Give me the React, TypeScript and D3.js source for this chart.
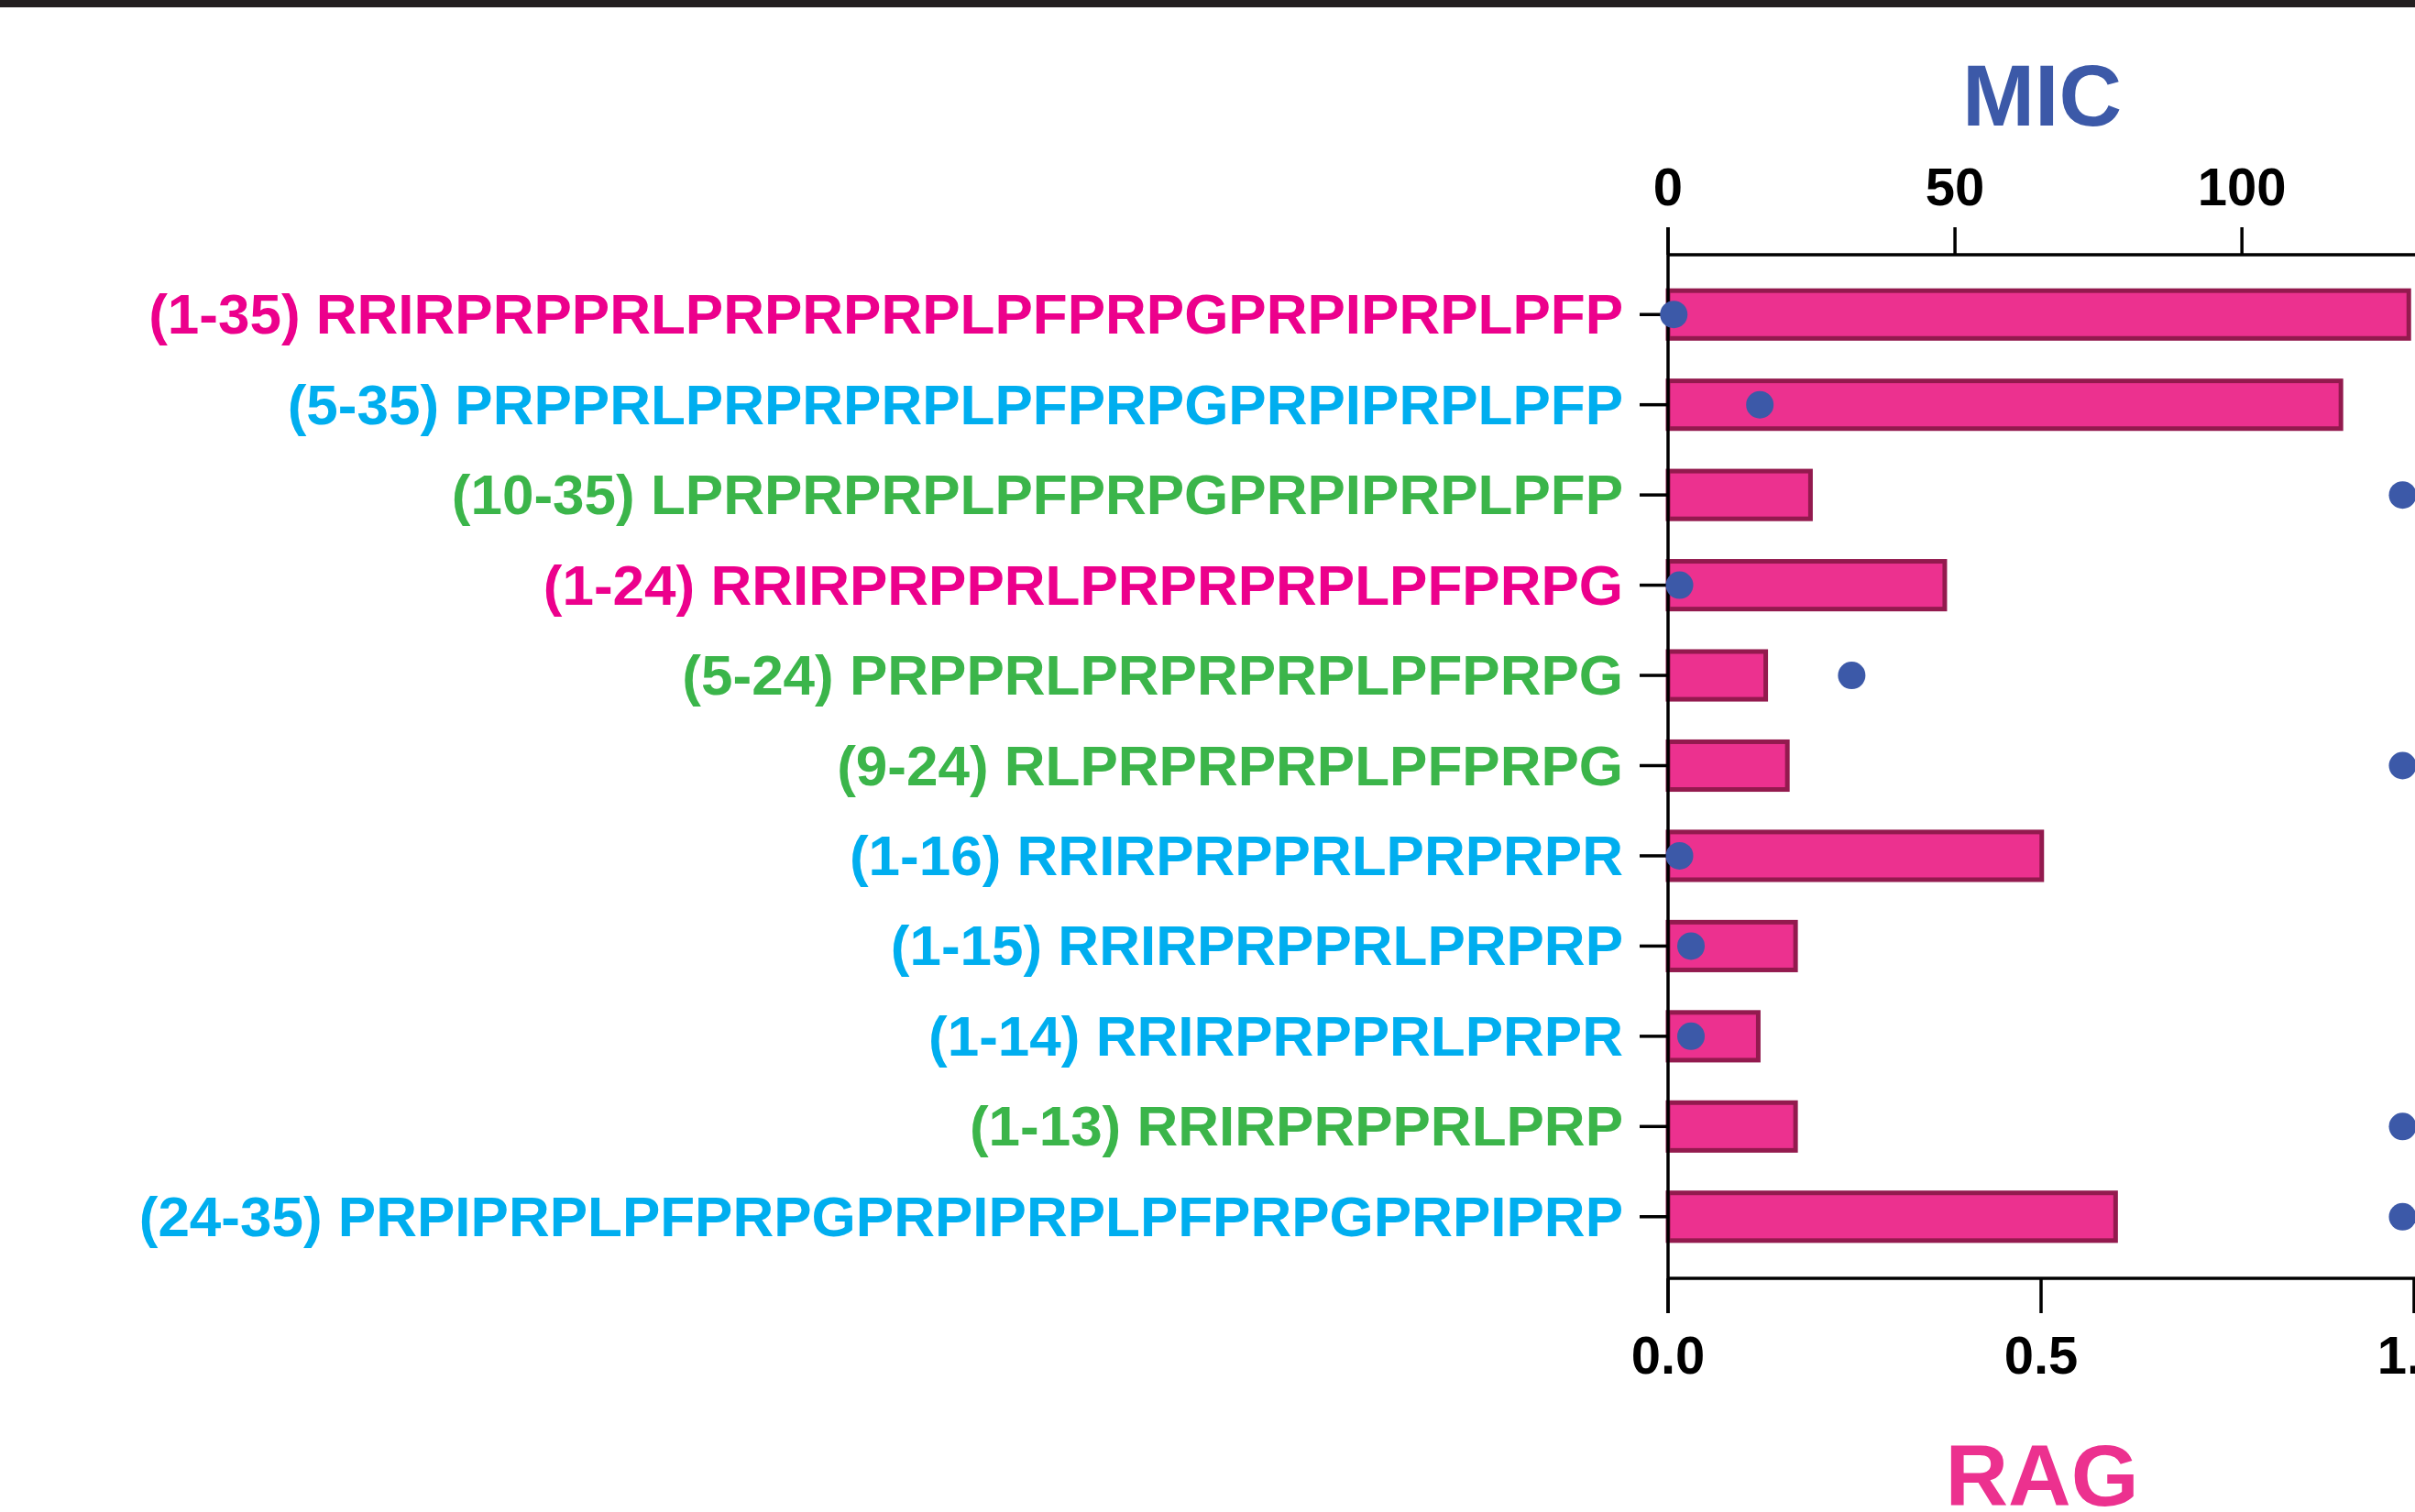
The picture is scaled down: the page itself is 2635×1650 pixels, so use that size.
import React from "react";
import * as d3 from "d3";

const categories = [
  "(1-35) RRIRPRPPRLPRPRPRPLPFPRPGPRPIPRPLPFP",
  "(5-35) PRPPRLPRPRPRPLPFPRPGPRPIPRPLPFP",
  "(10-35) LPRPRPRPLPFPRPGPRPIPRPLPFP",
  "(1-24) RRIRPRPPRLPRPRPRPLPFPRPG",
  "(5-24) PRPPRLPRPRPRPLPFPRPG",
  "(9-24) RLPRPRPRPLPFPRPG",
  "(1-16) RRIRPRPPRLPRPRPR",
  "(1-15) RRIRPRPPRLPRPRP",
  "(1-14) RRIRPRPPRLPRPR",
  "(1-13) RRIRPRPPRLPRP",
  "(24-35) PRPIPRPLPFPRPGPRPIPRPLPFPRPGPRPIPRP",
];
const labelGroups = ["m", "c", "g", "m", "g", "g", "c", "c", "c", "g", "c"];
const ragValues = [0.996, 0.905, 0.194, 0.374, 0.134, 0.163, 0.504, 0.174, 0.124, 0.174, 0.603];
const micValues = [1, 16, 128, 2, 32, 128, 2, 4, 4, 128, 128];
const micTicks = [0, 50, 100];
const ragTicks = [0, 0.5, 1.0];

const W = 2635;
const H = 1650;
const FONT = "'Liberation Sans', Arial, Helvetica, sans-serif";
const groupColor: Record<string, string> = { m: "#ec008c", c: "#00aeef", g: "#3bb54a" };

export default function App() {
  const x0 = 1820;
  const x1 = 2634;
  const topAxisY = 278;
  const botAxisY = 1395;
  const xRag = d3.scaleLinear().domain([0, 1]).range([x0, x1]);
  const xMic = d3.scaleLinear().domain([0, 130]).range([x0, x1]);
  const y = d3.scaleBand<string>().domain(categories).range([294, 1377]).paddingInner(0.42).paddingOuter(0.21);
  const bw = y.bandwidth();

  return (
    <svg width={W} height={H} style={{ position: "absolute", left: 0, top: 0, background: "#fff" }} fontFamily={FONT}>
      <rect x={0} y={0} width={W} height={H} fill="#fff" />
      <rect x={0} y={0} width={W} height={8} fill="#231f20" />

      {/* bars */}
      {categories.map((c, i) => (
        <rect
          key={"b" + i}
          x={xRag(0)}
          y={(y(c) as number) + 2.5}
          width={xRag(ragValues[i]) - xRag(0) - 2.5}
          height={bw - 5}
          fill="#ec318f"
          stroke="#931a4e"
          strokeWidth={5}
        />
      ))}

      {/* axes */}
      <line x1={x0} x2={W} y1={topAxisY} y2={topAxisY} stroke="#000" strokeWidth={3.5} />
      <line x1={x0} x2={W} y1={botAxisY} y2={botAxisY} stroke="#000" strokeWidth={3.5} />
      <line x1={x0} x2={x0} y1={topAxisY - 30} y2={botAxisY + 38} stroke="#000" strokeWidth={3.5} />

      {micTicks.map((t) => (
        <g key={"mt" + t}>
          <line x1={xMic(t)} x2={xMic(t)} y1={topAxisY - 30} y2={topAxisY} stroke="#000" strokeWidth={3.5} />
          <text x={xMic(t)} y={224} textAnchor="middle" fontSize={58} fontWeight="bold" fill="#000">
            {t}
          </text>
        </g>
      ))}
      {ragTicks.map((t) => (
        <g key={"rt" + t}>
          <line x1={xRag(t)} x2={xRag(t)} y1={botAxisY} y2={botAxisY + 38} stroke="#000" strokeWidth={3.5} />
          <text x={xRag(t)} y={1499} textAnchor="middle" fontSize={58} fontWeight="bold" fill="#000">
            {d3.format(".1f")(t)}
          </text>
        </g>
      ))}

      {/* category ticks and labels */}
      {categories.map((c, i) => {
        const cy = (y(c) as number) + bw / 2;
        return (
          <g key={"l" + i}>
            <line x1={x0 - 31} x2={x0} y1={cy} y2={cy} stroke="#000" strokeWidth={3.5} />
            <text x={1771} y={cy + 21} textAnchor="end" fontSize={62} fontWeight="bold" fill={groupColor[labelGroups[i]]}>
              {c}
            </text>
          </g>
        );
      })}

      {/* MIC points */}
      {categories.map((c, i) => (
        <circle key={"p" + i} cx={xMic(micValues[i])} cy={(y(c) as number) + bw / 2} r={15} fill="#3c59a8" />
      ))}

      <text x={2228} y={137} textAnchor="middle" fontSize={95} fontWeight="bold" fill="#3c59a8">
        MIC
      </text>
      <text x={2228} y={1643} textAnchor="middle" fontSize={95} fontWeight="bold" fill="#ec318f">
        RAG
      </text>
    </svg>
  );
}
